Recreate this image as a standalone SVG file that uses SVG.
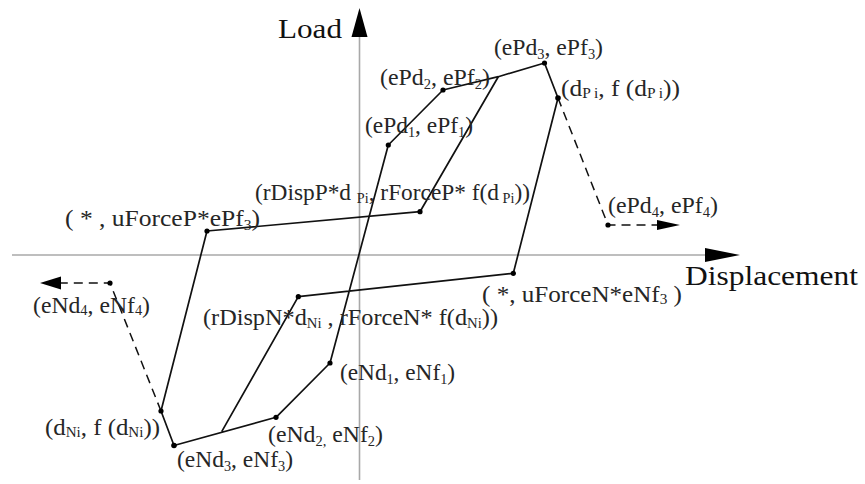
<svg xmlns="http://www.w3.org/2000/svg" width="865" height="484" viewBox="0 0 865 484">
<style>
  .axis { stroke: #a8a8a8; stroke-width: 1.6; fill: none; }
  .arrow { fill: #000; stroke: none; }
  .line { stroke: #111; stroke-width: 1.7; fill: none; stroke-linejoin: round; }
  .dash { stroke: #111; stroke-width: 1.5; fill: none; stroke-dasharray: 9 6; }
  .dot { fill: #000; }
  .lbl { font-family: "Liberation Serif", "Times New Roman", serif; fill: #262626; font-size: 23px; }
  .load { font-family: "Liberation Serif", "Times New Roman", serif; fill: #111; font-size: 28px; }
  .disp { font-family: "Liberation Serif", "Times New Roman", serif; fill: #111; font-size: 28px; }
  .sub { font-size: 14px; }
</style>
<rect width="865" height="484" fill="#fff"/>

<g id="axes">
  <line class="axis" x1="12" y1="255" x2="706" y2="255"/>
  <polygon class="arrow" points="740,255 705,248 705,262"/>
  <line class="axis" x1="359.5" y1="36" x2="359.5" y2="480"/>
  <polygon class="arrow" points="359.5,8 351.5,37 367.5,37"/>
  <text class="load" x="278" y="38" textLength="64" lengthAdjust="spacingAndGlyphs">Load</text>
  <text class="disp" x="685" y="285" textLength="173" lengthAdjust="spacingAndGlyphs">Displacement</text>
</g>

<g id="connectors">
  <polyline class="line" points="174,445.5 276,417.3 330,363 388.3,145 443,90 498.3,76.7 544.5,63 558,98 513.3,273.3 298.3,296.7 221.7,431.7"/>
  <polyline class="line" points="174,445.5 161,411 207,231 420,211.7 498.3,76.7"/>
  <polyline class="dash" points="558,98 608,225 658,225"/>
  <polygon class="arrow" points="680,225 657,220 657,230"/>
  <polyline class="dash" points="161,411 110,283 60,283"/>
  <polygon class="arrow" points="40,283 61,276.5 61,289.5"/>
</g>

<g id="node-ePd3">
  <circle class="dot" cx="544.5" cy="63" r="2.6"/>
  <text class="lbl" x="494" y="55" textLength="109" lengthAdjust="spacingAndGlyphs">(ePd<tspan class="sub" dy="4">3</tspan><tspan dy="-4">, ePf</tspan><tspan class="sub" dy="4">3</tspan><tspan dy="-4">)</tspan></text>
</g>
<g id="node-ePd2">
  <circle class="dot" cx="443" cy="90" r="2.6"/>
  <text class="lbl" x="380" y="85" textLength="110" lengthAdjust="spacingAndGlyphs">(ePd<tspan class="sub" dy="4">2</tspan><tspan dy="-4">, ePf</tspan><tspan class="sub" dy="4">2</tspan><tspan dy="-4">)</tspan></text>
</g>
<g id="node-ePd1">
  <circle class="dot" cx="388.3" cy="145" r="2.6"/>
  <text class="lbl" x="365" y="133" textLength="108" lengthAdjust="spacingAndGlyphs">(ePd<tspan class="sub" dy="4">1</tspan><tspan dy="-4">, ePf</tspan><tspan class="sub" dy="4">1</tspan><tspan dy="-4">)</tspan></text>
</g>
<g id="node-dPi">
  <circle class="dot" cx="558" cy="98" r="2.8"/>
  <text class="lbl" x="561" y="96" textLength="119" lengthAdjust="spacingAndGlyphs">(d<tspan class="sub" dy="2">P i</tspan><tspan dy="-2">, f (d</tspan><tspan class="sub" dy="2">P i</tspan><tspan dy="-2">))</tspan></text>
</g>
<g id="node-ePd4">
  <circle class="dot" cx="608" cy="225" r="2.6"/>
  <text class="lbl" x="608" y="213" textLength="110" lengthAdjust="spacingAndGlyphs">(ePd<tspan class="sub" dy="4">4</tspan><tspan dy="-4">, ePf</tspan><tspan class="sub" dy="4">4</tspan><tspan dy="-4">)</tspan></text>
</g>
<g id="node-rDispP">
  <circle class="dot" cx="420" cy="211.7" r="2.6"/>
  <text class="lbl" x="255" y="200" textLength="275" lengthAdjust="spacingAndGlyphs">(rDispP*d <tspan class="sub" dy="3">Pi</tspan><tspan dy="-3">, rForceP* f(d</tspan><tspan class="sub" dy="3"> Pi</tspan><tspan dy="-3">))</tspan></text>
</g>
<g id="node-uForceP">
  <circle class="dot" cx="207" cy="231" r="2.6"/>
  <text class="lbl" x="65" y="226" textLength="195" lengthAdjust="spacingAndGlyphs">( * ,  uForceP*ePf<tspan class="sub" dy="4">3</tspan><tspan dy="-4">)</tspan></text>
</g>
<g id="node-uForceN">
  <circle class="dot" cx="513.3" cy="273.3" r="2.6"/>
  <text class="lbl" x="482" y="302" textLength="200" lengthAdjust="spacingAndGlyphs">( *,  uForceN*eNf<tspan class="sub" dy="2">3</tspan><tspan dy="-2"> )</tspan></text>
</g>
<g id="node-eNd4">
  <circle class="dot" cx="110" cy="283" r="2.6"/>
  <text class="lbl" x="33" y="313" textLength="117" lengthAdjust="spacingAndGlyphs">(eNd<tspan class="sub" dy="2">4</tspan><tspan dy="-2">, eNf</tspan><tspan class="sub" dy="2">4</tspan><tspan dy="-2">)</tspan></text>
</g>
<g id="node-rDispN">
  <circle class="dot" cx="298.3" cy="296.7" r="2.6"/>
  <text class="lbl" x="203" y="325" textLength="295" lengthAdjust="spacingAndGlyphs">(rDispN*d<tspan class="sub" dy="3">Ni</tspan><tspan dy="-3"> , rForceN* f(d</tspan><tspan class="sub" dy="3">Ni</tspan><tspan dy="-3">))</tspan></text>
</g>
<g id="node-eNd1">
  <circle class="dot" cx="330" cy="363" r="2.6"/>
  <text class="lbl" x="340" y="380" textLength="115" lengthAdjust="spacingAndGlyphs">(eNd<tspan class="sub" dy="4">1</tspan><tspan dy="-4">, eNf</tspan><tspan class="sub" dy="4">1</tspan><tspan dy="-4">)</tspan></text>
</g>
<g id="node-eNd2">
  <circle class="dot" cx="276" cy="417.3" r="2.6"/>
  <text class="lbl" x="268" y="442" textLength="115" lengthAdjust="spacingAndGlyphs">(eNd<tspan class="sub" dy="4">2,</tspan><tspan dy="-4"> eNf</tspan><tspan class="sub" dy="4">2</tspan><tspan dy="-4">)</tspan></text>
</g>
<g id="node-eNd3">
  <circle class="dot" cx="174" cy="445.5" r="2.8"/>
  <text class="lbl" x="177" y="467" textLength="116" lengthAdjust="spacingAndGlyphs">(eNd<tspan class="sub" dy="4">3</tspan><tspan dy="-4">, eNf</tspan><tspan class="sub" dy="4">3</tspan><tspan dy="-4">)</tspan></text>
</g>
<g id="node-dNi">
  <circle class="dot" cx="161" cy="411" r="2.6"/>
  <text class="lbl" x="45" y="435" textLength="115" lengthAdjust="spacingAndGlyphs">(d<tspan class="sub" dy="2">Ni</tspan><tspan dy="-2">, f (d</tspan><tspan class="sub" dy="2">Ni</tspan><tspan dy="-2">))</tspan></text>
</g>
</svg>
